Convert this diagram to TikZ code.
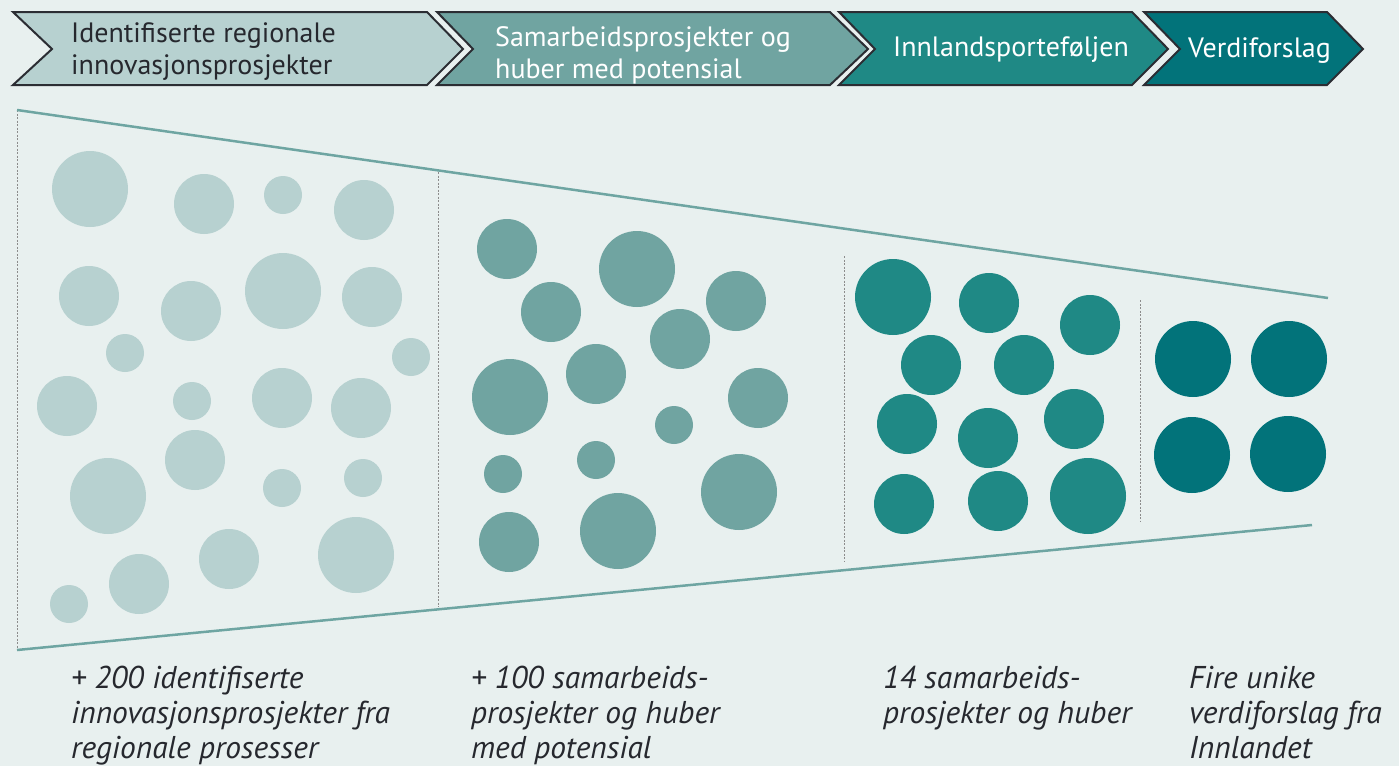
\documentclass[tikz,border=0pt]{standalone}
\usepackage{fontspec}
\setmainfont{PT Sans}
\definecolor{bg}{HTML}{E8F0EF}
\definecolor{cA}{HTML}{B7D1D0}
\definecolor{cB}{HTML}{70A4A1}
\definecolor{cC}{HTML}{1F8985}
\definecolor{cD}{HTML}{02737A}
\definecolor{edge}{HTML}{2B2D33}
\definecolor{funnel}{HTML}{6EA5A2}
\definecolor{dashgray}{HTML}{8C8C8C}
\definecolor{ink}{HTML}{26282E}
\begin{document}
\begin{tikzpicture}[x=1pt,y=-1pt,
  chev/.style={draw=edge,line width=2pt,line join=miter},
  headtxt/.style={anchor=west,align=left,inner sep=0pt,font=\fontsize{28}{32}\selectfont},
  foottxt/.style={anchor=north west,align=left,inner sep=0pt,text=ink,font=\fontsize{31.5}{35}\itshape\selectfont},
  divider/.style={draw=dashgray,line width=1pt,dash pattern=on 2pt off 1.5pt},
  funnelline/.style={draw=funnel,line width=2.5pt}]
\useasboundingbox (0,0) rectangle (1399,766);
\fill[bg] (0,0) rectangle (1399,766);
% chevrons
\path[chev,fill=cA] (13,12) -- (427,12) -- (463,49) -- (427,85) -- (13,85) -- (52,49) -- cycle;
\path[chev,fill=cB] (437,12) -- (830,12) -- (868,49) -- (830,85) -- (437,85) -- (473,49) -- cycle;
\path[chev,fill=cC] (839,12) -- (1132,12) -- (1168,49) -- (1132,85) -- (839,85) -- (875,49) -- cycle;
\path[chev,fill=cD] (1144,12) -- (1327,12) -- (1363,49) -- (1327,85) -- (1144,85) -- (1180,49) -- cycle;
\node[headtxt,text=ink] (h1) at (71,52) {Identifiserte regionale\\innovasjonsprosjekter};
\node[headtxt,text=white] (h2) at (495,55) {Samarbeidsprosjekter og\\huber med potensial};
\node[headtxt,text=white] (h3) at (893,50) {Innlandsporteføljen};
\node[headtxt,text=white] (h4) at (1188,51) {Verdiforslag};
% dividers
\draw[divider] (17,110) -- (17,650);
\draw[divider] (438,172) -- (438,607);
\draw[divider] (844,256) -- (844,562);
\draw[divider] (1140,300) -- (1140,521);
% funnel
\draw[funnelline] (17,110) -- (1328,298);
\draw[funnelline] (17,650) -- (1312,525);
% column 1
\foreach \x/\y/\r in {90/189/38,204/204/30,283/195/19,364/210/30,
  89/296/30,191/311/30,283/291/38,372/297/30,125/353/19,411/357/19,
  67/406/30,192/401/19,282/398/30,361/408/30,108/496/38,195/460/30,
  282/488/19,363/478/19,69/604/19,139/584/30,229/559/30,356/555/38}
  \fill[cA] (\x,\y) circle[radius=\r];
% column 2
\foreach \x/\y/\r in {507/249/30,637/269/38,551/312/30,736/301/30,
  680/339/30,596/374/30,510/397/38,758/398/30,674/425/19,503/474/19,
  596/460/19,739/492/38,509/542/30,618/531/38}
  \fill[cB] (\x,\y) circle[radius=\r];
% column 3
\foreach \x/\y/\r in {893/297/38,989/303/30,1090/325/30,931/365/30,
  1024/365/30,907/424/30,988/438/30,1074/419/30,904/504/30,998/501/30,1088/496/38}
  \fill[cC] (\x,\y) circle[radius=\r];
% column 4
\foreach \x/\y/\r in {1193/359/38,1289/359/38,1192/455/38,1288/454/38}
  \fill[cD] (\x,\y) circle[radius=\r];
% footer texts
\node[foottxt] (f1) at (71,666) {+ 200 identifiserte\\innovasjonsprosjekter fra\\regionale prosesser};
\node[foottxt] (f2) at (471,666) {+ 100 samarbeids-\\prosjekter og huber\\med potensial};
\node[foottxt] (f3) at (883,666) {14 samarbeids-\\prosjekter og huber};
\node[foottxt] (f4) at (1189,666) {Fire unike\\verdiforslag fra\\Innlandet};
\end{tikzpicture}
\end{document}
